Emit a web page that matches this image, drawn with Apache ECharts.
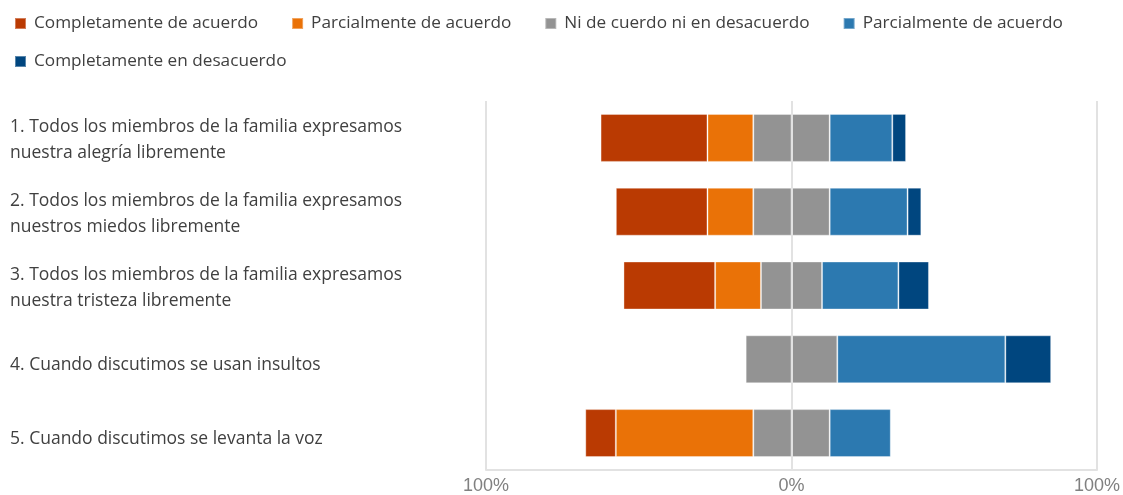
<!DOCTYPE html>
<html>
<head>
<meta charset="utf-8">
<script src="https://cdn.jsdelivr.net/npm/echarts@6/dist/echarts.min.js"></script>
<style>
  html, body { margin: 0; padding: 0; background: #fff; }
  #chart { width: 1123px; height: 495px; }
</style>
</head>
<body>
<div id="chart"></div>
<script>
// categorías (de arriba abajo)
var preguntas = [
    '1. Todos los miembros de la familia expresamos\nnuestra alegría libremente',
    '2. Todos los miembros de la familia expresamos\nnuestros miedos libremente',
    '3. Todos los miembros de la familia expresamos\nnuestra tristeza libremente',
    '4. Cuando discutimos se usan insultos',
    '5. Cuando discutimos se levanta la voz'
];

// porcentajes por respuesta
var completAcuerdo = [35, 30, 30, 0, 10];
var parcialAcuerdo = [15, 15, 15, 0, 45];
var neutro = [25, 25, 20, 30, 25];
var parcialDesacuerdo = [20.5, 25.5, 25, 55, 20];
var completDesacuerdo = [4.5, 4.5, 10, 15, 0];

var nombres = ['Completamente de acuerdo', 'Parcialmente de acuerdo', 'Ni de cuerdo ni en desacuerdo',
    'Parcialmente de acuerdo ', 'Completamente en desacuerdo'];
var colores = ['#BA3A02', '#EA7207', '#939393', '#2C79B0', '#00467F'];

var ejeTicks = [-100, 0, 100];

var fuente = '"Open Sans", "Noto Sans", sans-serif';

function neg(arr) {
    return arr.map(function (v) { return v ? -v : null; });
}
function pos(arr) {
    return arr.map(function (v) { return v ? v : null; });
}
function mitad(arr, signo) {
    return arr.map(function (v) { return v ? signo * v / 2 : null; });
}

var chart = echarts.init(document.getElementById('chart'));

function serie(nombre, color, data) {
    return {
        name: nombre,
        type: 'bar',
        stack: 'total',
        barWidth: '65%',
        itemStyle: { color: color, borderColor: 'rgba(255,255,255,0.35)', borderWidth: 1 },
        data: data
    };
}

var leyendaTexto = { fontFamily: fuente, fontSize: 17.2, color: '#404040', padding: [0, 0, 0, 3] };

var option = {
    animation: false,
    color: colores,
    legend: [{
        left: 9,
        top: 10,
        itemWidth: 11,
        itemHeight: 11,
        itemGap: 33,
        icon: 'rect',
        textStyle: leyendaTexto,
        data: nombres.slice(0, 4)
    }, {
        left: 9,
        top: 48,
        itemWidth: 11,
        itemHeight: 11,
        icon: 'rect',
        textStyle: leyendaTexto,
        data: nombres.slice(4)
    }],
    grid: { left: 486, right: 23, top: 101, bottom: 24 },
    xAxis: {
        type: 'value',
        min: ejeTicks[0],
        max: ejeTicks[2],
        interval: 100,
        z: 10,
        axisLine: { show: true, lineStyle: { color: '#e2e2e2', width: 2 } },
        axisTick: { show: false },
        splitLine: { show: true, lineStyle: { color: '#e2e2e2', width: 2 } },
        axisLabel: {
            margin: 7,
            fontFamily: '"Liberation Sans", Arial, sans-serif',
            fontSize: 18,
            color: '#808080',
            formatter: function (v) { return Math.abs(v) + '%'; }
        }
    },
    yAxis: {
        type: 'category',
        inverse: true,
        data: preguntas,
        axisLine: { show: false },
        axisTick: { show: false },
        axisLabel: {
            align: 'left',
            margin: 476,
            fontFamily: fuente,
            fontSize: 17.5,
            lineHeight: 26,
            padding: [5, 0, 0, 0],
            color: '#404040',
            // las etiquetas de una sola línea van algo más abajo
            formatter: function (v) {
                return v.indexOf('\n') < 0 ? '{s|' + v + '}' : v;
            },
            rich: {
                s: { fontFamily: fuente, fontSize: 17.5, color: '#404040', padding: [6, 0, 0, 0] }
            }
        }
    },
    series: [
        serie(nombres[2], colores[2], mitad(neutro, -1)),
        serie(nombres[1], colores[1], neg(parcialAcuerdo)),
        serie(nombres[0], colores[0], neg(completAcuerdo)),
        serie(nombres[2], colores[2], mitad(neutro, 1)),
        serie(nombres[3], colores[3], pos(parcialDesacuerdo)),
        serie(nombres[4], colores[4], pos(completDesacuerdo))
    ]
};

chart.setOption(option);
</script>
</body>
</html>
